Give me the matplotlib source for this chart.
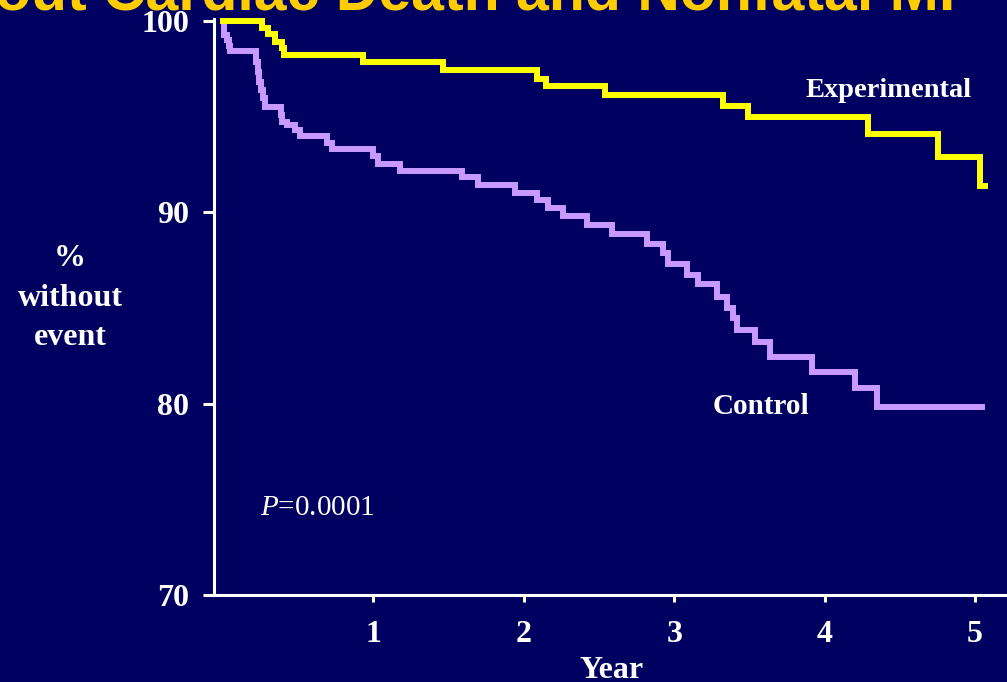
import matplotlib
matplotlib.use("Agg")
import matplotlib.pyplot as plt
import numpy as np

# ---- data ----
exp_times = [0.0, 0.259, 0.299, 0.346, 0.392, 0.406, 0.931, 1.463, 2.088, 2.148,
             2.540, 3.324, 3.491, 4.289, 4.754, 5.033, 5.066]
exp_values = [100.0, 99.61, 99.30, 98.88, 98.56, 98.20, 97.83, 97.42, 96.95, 96.58,
              96.11, 95.54, 94.96, 94.07, 92.87, 91.36, 91.36]

ctl_times = [0.0, 0.007, 0.027, 0.040, 0.047, 0.219, 0.233, 0.239, 0.253, 0.266,
             0.279, 0.386, 0.392, 0.426, 0.479, 0.512, 0.691, 0.725, 0.997, 1.031,
             1.177, 1.589, 1.695, 1.941, 2.088, 2.161, 2.261, 2.420, 2.586, 2.819,
             2.926, 2.959, 3.085, 3.158, 3.285, 3.351, 3.391, 3.418, 3.537, 3.637,
             3.916, 4.202, 4.348, 5.047]
ctl_values = [100.0, 99.24, 98.98, 98.67, 98.41, 97.83, 97.31, 96.79, 96.37, 95.95,
              95.48, 95.07, 94.70, 94.54, 94.28, 93.96, 93.60, 93.29, 92.92, 92.51,
              92.14, 91.83, 91.41, 90.99, 90.63, 90.21, 89.79, 89.32, 88.85, 88.33,
              87.86, 87.28, 86.71, 86.24, 85.56, 84.99, 84.46, 83.84, 83.21, 82.43,
              81.64, 80.81, 79.82, 79.82]

x_ticks = [1, 2, 3, 4, 5]
y_ticks = [70, 80, 90, 100]

title_text = "out Cardiac Death and Nonfatal MI"
x_label = "Year"
y_label = "%\nwithout\nevent"
exp_label = "Experimental"
ctl_label = "Control"
p_text = "$P$=0.0001"

# ---- style ----
BG = "#000060"
YELLOW = "#FFFF00"
PURPLE = "#C899FF"
GOLD = "#FFCC00"
W = 1007
H = 682

plt.rcParams["mathtext.fontset"] = "custom"
plt.rcParams["mathtext.it"] = "Liberation Serif:italic"
plt.rcParams["mathtext.rm"] = "Liberation Serif"

fig = plt.figure(figsize=(W / 100, H / 100), dpi=100, facecolor=BG)
left_px, right_px, top_px, bottom_px = 214, 1007, 19, 595
ax = fig.add_axes([left_px / W, 1 - bottom_px / H,
                   (right_px - left_px) / W, (bottom_px - top_px) / H])
ax.set_facecolor(BG)

x0_px, px_per_year = 223, 150.4
ax.set_xlim((left_px - x0_px) / px_per_year, (right_px - x0_px) / px_per_year)
ax.set_ylim(70, 100.08)

ax.step(exp_times, exp_values, where="post", color=YELLOW, lw=4.3,
        solid_joinstyle="miter", clip_on=False, zorder=3)
ax.step(ctl_times, ctl_values, where="post", color=PURPLE, lw=4.3,
        solid_joinstyle="miter", clip_on=False, zorder=2)

for s in ["top", "right"]:
    ax.spines[s].set_visible(False)
for s in ["left", "bottom"]:
    ax.spines[s].set_color("white")
    ax.spines[s].set_linewidth(2.2)

ax.set_xticks(x_ticks)
ax.set_yticks(y_ticks)
ax.set_xticklabels([str(v) for v in x_ticks])
ax.set_yticklabels([str(v) for v in y_ticks])
ax.tick_params(axis="y", direction="out", length=8, width=2.2, color="white",
               pad=10, labelcolor="white", labelsize=23)
ax.tick_params(axis="x", direction="out", length=5, width=2.2, color="white",
               pad=13, labelcolor="white", labelsize=23)
for lab in ax.get_xticklabels() + ax.get_yticklabels():
    lab.set_fontfamily("Liberation Serif")
    lab.set_fontweight("bold")

serif = {"family": "Liberation Serif", "weight": "bold", "color": "white"}

fig.text(612 / W, 1 - 670 / H, x_label, ha="center", va="center", fontsize=23, **serif)
fig.text(70 / W, 1 - 298 / H, y_label, ha="center", va="center", fontsize=23,
         linespacing=1.48, **serif)
fig.text(805 / W, 1 - 97 / H, exp_label, ha="left", va="baseline", fontsize=20.5, **serif)
fig.text(713 / W, 1 - 414 / H, ctl_label, ha="left", va="baseline", fontsize=21, **serif)
fig.text(260 / W, 1 - 515 / H, p_text, ha="left", va="baseline", fontsize=21,
         family="Liberation Serif", color="white")

fig.text(955 / W, 1 - 9 / H, title_text, ha="right", va="baseline", fontsize=42.5,
         family="Liberation Sans", weight="bold", color=GOLD)

fig.savefig("out.png", dpi=100, facecolor=BG)
